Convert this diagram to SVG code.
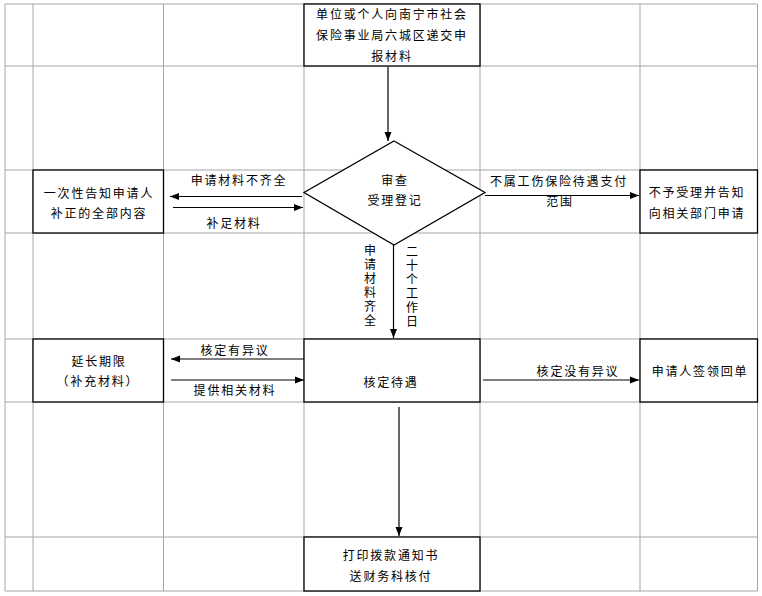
<svg xmlns="http://www.w3.org/2000/svg" width="762" height="596" viewBox="0 0 762 596">
<defs>
<style>
.grid line{stroke:#a6a6a6;stroke-width:1}
.box{fill:#fff;stroke:#000;stroke-width:1.3}
text{font-family:"Noto Sans CJK SC","Noto Sans",sans-serif;font-size:12px;fill:#000;letter-spacing:1.8px}
.c{text-anchor:middle}
.v{writing-mode:vertical-rl;text-orientation:upright;letter-spacing:2px}
.conn line{stroke:#000;stroke-width:1.2}
</style>
<marker id="ah" markerUnits="userSpaceOnUse" markerWidth="10" markerHeight="8" refX="9" refY="4" orient="auto">
<path d="M0,0.5 L9,4 L0,7.5 Z" fill="#000"/>
</marker>
</defs>
<rect width="762" height="596" fill="#fff"/>
<g class="grid">
<line x1="5" y1="4" x2="5" y2="591"/>
<line x1="33" y1="4" x2="33" y2="591"/>
<line x1="163.5" y1="4" x2="163.5" y2="591"/>
<line x1="304" y1="4" x2="304" y2="591"/>
<line x1="480" y1="4" x2="480" y2="591"/>
<line x1="640" y1="4" x2="640" y2="591"/>
<line x1="757.5" y1="4" x2="757.5" y2="591"/>
<line x1="5" y1="4" x2="757.5" y2="4"/>
<line x1="5" y1="66" x2="757.5" y2="66"/>
<line x1="5" y1="170" x2="757.5" y2="170"/>
<line x1="5" y1="233" x2="757.5" y2="233"/>
<line x1="5" y1="339" x2="757.5" y2="339"/>
<line x1="5" y1="402" x2="757.5" y2="402"/>
<line x1="5" y1="537" x2="757.5" y2="537"/>
<line x1="5" y1="591" x2="757.5" y2="591"/>
</g>
<g id="n-submit">
<rect class="box" x="304" y="4" width="176" height="62"/>
<text class="c" x="392" y="19">单位或个人向南宁市社会</text>
<text class="c" x="392" y="40">保险事业局六城区递交申</text>
<text class="c" x="392" y="61">报材料</text>
</g>
<g id="n-review">
<polygon class="box" points="394,141 485,192.5 394,245 304,192.5"/>
<text class="c" x="395" y="184.5">审查</text>
<text class="c" x="395" y="205">受理登记</text>
</g>
<g id="n-notify">
<rect class="box" x="33" y="170" width="130.5" height="63"/>
<text class="c" x="99" y="198">一次性告知申请人</text>
<text class="c" x="99" y="218">补正的全部内容</text>
</g>
<g id="n-reject">
<rect class="box" x="640" y="170" width="117.5" height="63"/>
<text class="c" x="697" y="197">不予受理并告知</text>
<text class="c" x="697" y="218">向相关部门申请</text>
</g>
<g id="n-extend">
<rect class="box" x="33" y="339" width="130.5" height="63"/>
<text class="c" x="99" y="365.5">延长期限</text>
<text class="c" x="98" y="386">（补充材料）</text>
</g>
<g id="n-verify">
<rect class="box" x="304" y="339" width="176" height="63"/>
<text class="c" x="391" y="387">核定待遇</text>
</g>
<g id="n-sign">
<rect class="box" x="640" y="339" width="117.5" height="63"/>
<text class="c" x="700" y="376">申请人签领回单</text>
</g>
<g id="n-print">
<rect class="box" x="304" y="537" width="176" height="54"/>
<text class="c" x="391" y="559.5">打印拨款通知书</text>
<text class="c" x="391" y="580.5">送财务科核付</text>
</g>
<g id="connectors" class="conn">
<line x1="388" y1="67" x2="388" y2="141" marker-end="url(#ah)"/>
<line x1="302" y1="196.5" x2="170" y2="196.5" marker-end="url(#ah)"/>
<line x1="173" y1="207.5" x2="303" y2="207.5" marker-end="url(#ah)"/>
<line x1="485" y1="195.5" x2="639" y2="195.5" marker-end="url(#ah)"/>
<line x1="393.5" y1="245" x2="393.5" y2="338" marker-end="url(#ah)"/>
<line x1="304" y1="359" x2="171" y2="359" marker-end="url(#ah)"/>
<line x1="171" y1="380" x2="304" y2="380" marker-end="url(#ah)"/>
<line x1="483" y1="380" x2="639" y2="380" marker-end="url(#ah)"/>
<line x1="399" y1="407" x2="399" y2="536" marker-end="url(#ah)"/>
</g>
<g id="labels">
<text class="c" x="239" y="185">申请材料不齐全</text>
<text class="c" x="234" y="228">补足材料</text>
<text class="c" x="559" y="186">不属工伤保险待遇支付</text>
<text class="c" x="560" y="205.5">范围</text>
<text class="c" x="235" y="354.5">核定有异议</text>
<text class="c" x="235" y="394.5">提供相关材料</text>
<text class="c" x="578" y="376">核定没有异议</text>
<text class="v" x="370" y="244">申请材料齐全</text>
<text class="v" x="412" y="245.5">二十个工作日</text>
</g>
</svg>
